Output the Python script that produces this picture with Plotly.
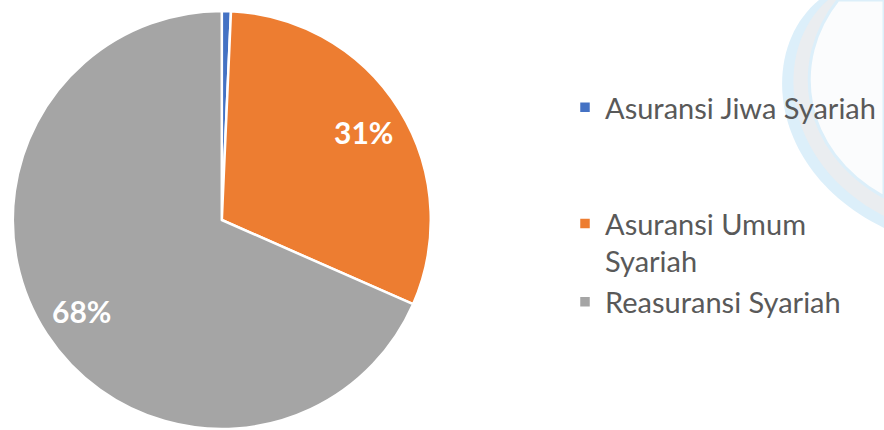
import math
import plotly.graph_objects as go

W, H = 884, 430

categories = ["Asuransi Jiwa Syariah", "Asuransi Umum Syariah", "Reasuransi Syariah"]
legend_labels = ["Asuransi Jiwa Syariah<br> <br> ", "Asuransi Umum<br>Syariah", "Reasuransi Syariah"]
shares = [0.7, 30.9, 68.4]
show_label = [False, True, True]
colors = ["#4472C4", "#ED7D31", "#A5A5A5"]

# pie geometry (pixels)
X0, X1 = 12.8, 430.8
Y0, Y1 = 11.0, 429.0
CX, CY = (X0 + X1) / 2, (Y0 + Y1) / 2
R = (X1 - X0) / 2


def px(x, y):
    return f"{x / W:.5f},{(H - y) / H:.5f}"


fig = go.Figure()
fig.add_trace(go.Pie(
    labels=legend_labels,
    values=shares,
    sort=False,
    direction="clockwise",
    rotation=0,
    marker=dict(colors=colors, line=dict(color="white", width=2.5)),
    textinfo="none",
    hoverinfo="label+percent",
    domain=dict(x=[X0 / W, X1 / W], y=[(H - Y1) / H, (H - Y0) / H]),
))

# data labels at ~0.8 R along each slice's mid-angle
annotations = []
total = sum(shares)
cum = 0.0
for v, show in zip(shares, show_label):
    mid = (cum + v / 2) / total * 2 * math.pi
    cum += v
    if not show:
        continue
    lx = CX + 0.8 * R * math.sin(mid)
    ly = CY - 0.8 * R * math.cos(mid)
    annotations.append(dict(
        x=lx / W, y=(H - ly) / H, xref="paper", yref="paper",
        text=f"<b>{round(v / total * 100):d}%</b>", showarrow=False,
        font=dict(family="Lato", size=30, color="white"),
        xanchor="center", yanchor="middle",
    ))

outer = f"M {px(819, 0)} C {px(758, 50)} {px(768, 172)} {px(884, 228)} L {px(884, 0)} Z"
mid_band = f"M {px(828, 0)} C {px(771, 50)} {px(781, 163)} {px(884, 216)} L {px(884, 0)} Z"
inner = f"M {px(838, 0)} C {px(790, 60)} {px(800, 150)} {px(884, 197)} L {px(884, 0)} Z"

fig.update_layout(
    width=W, height=H,
    margin=dict(l=0, r=0, t=0, b=0),
    paper_bgcolor="white",
    plot_bgcolor="white",
    showlegend=True,
    annotations=annotations,
    legend=dict(
        x=565 / W, xanchor="left",
        y=(H - 82) / H, yanchor="top",
        valign="top",
        font=dict(family="Lato", size=29, color="#595959"),
        bgcolor="rgba(0,0,0,0)",
        itemclick=False,
    ),
    shapes=[
        dict(type="path", xref="paper", yref="paper", path=outer,
             fillcolor="#DCEFFA", line=dict(width=0), layer="below"),
        dict(type="path", xref="paper", yref="paper", path=mid_band,
             fillcolor="#EAEDF0", line=dict(width=0), layer="below"),
        dict(type="path", xref="paper", yref="paper", path=inner,
             fillcolor="#FBFCFD", line=dict(width=3, color="#DCEFFA"), layer="below"),
    ],
)

fig.write_html("out.html")
